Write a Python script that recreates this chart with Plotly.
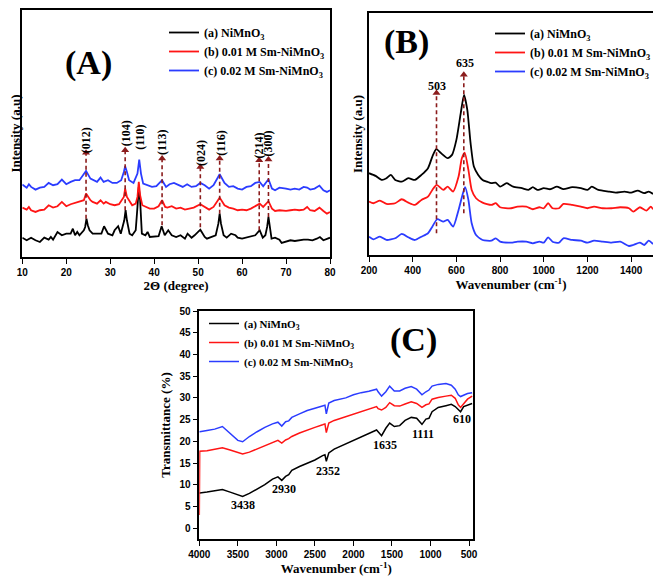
import plotly.graph_objects as go

SERIF = "Liberation Serif"
SANS = "Liberation Sans"
BLACK = "#000000"
RED = "#ff1414"
BLUE = "#2b3cff"
DARKRED = "#8b1c1c"

NAMES = ["(a) NiMnO<sub>3</sub>", "(b) 0.01 M Sm-NiMnO<sub>3</sub>", "(c) 0.02 M Sm-NiMnO<sub>3</sub>"]

# ---------------- Panel A: XRD ----------------
xrd_black_x = [10, 11, 12, 13, 14, 15, 16, 16.5, 17, 18, 19, 20, 21, 21.5, 22, 22.5, 23, 24, 24.3, 24.6, 24.9, 25.3, 26, 27, 28,
               28.6, 29.5, 30.5, 31, 31.8, 32.4, 33.2, 33.5, 33.8, 34.4, 35, 35.8, 36.2, 36.5, 36.8, 37.2, 38, 38.5, 39, 40,
               41, 41.7, 42.4, 43.2, 44, 45, 46, 47, 47.6, 48.5, 49.2, 50.5, 51.5, 52, 53, 54, 54.6, 54.9, 55.2, 55.8, 56.5,
               57.5, 58.5, 59, 60, 61, 62, 63, 64, 64.7, 65.3, 65.7, 66, 66.3, 66.7, 67.5, 68.5, 69, 70, 71, 72, 73, 74, 75,
               76, 77, 77.7, 78.5, 79.5, 80]
xrd_black_y = [19.3, 16.7, 19.3, 16.7, 15.0, 19.3, 17.3, 20.0, 17.3, 25.0, 21.7, 23.3, 23.3, 28.3, 21.7, 25.0, 21.7, 26.7, 30.0,
               38.3, 31.7, 26.7, 23.3, 23.3, 23.3, 30.7, 23.3, 21.7, 26.7, 30.7, 23.3, 36.7, 46.7, 36.7, 23.3, 21.7, 26.7, 50.0,
               70.0, 56.7, 23.3, 21.7, 25.0, 20.0, 20.0, 20.7, 30.7, 21.7, 26.7, 21.7, 20.0, 21.7, 18.3, 23.3, 19.3, 21.7, 27.3,
               20.0, 18.3, 20.0, 21.7, 33.3, 43.3, 33.3, 21.7, 19.3, 23.3, 21.7, 19.3, 18.3, 19.3, 20.0, 21.7, 26.7, 19.3, 21.7,
               30.0, 40.0, 30.0, 18.3, 19.3, 17.3, 14.0, 15.0, 16.7, 16.0, 16.7, 17.3, 17.3, 16.7, 18.3, 20.0, 16.7, 18.3, 19.3]

xrd_red_x = [10, 11, 11.5, 12, 13, 14, 15, 16, 17, 18, 19, 20, 21, 22, 23, 24, 24.5, 25.5, 26, 27, 27.8, 28.5, 29, 30, 31, 32,
             33.1, 33.4, 33.8, 34.2, 35, 35.8, 36.2, 36.5, 36.8, 37.3, 38, 39, 40, 41, 41.8, 42.5, 43, 44, 45, 46, 47, 48, 49,
             50.5, 51.5, 52.5, 53.5, 54.9, 56, 57, 58, 59, 60, 61, 62, 63, 64, 64.8, 66, 66.8, 67.5, 68.5, 70, 71, 72, 73, 74,
             74.8, 75.5, 76.5, 77.6, 78.5, 79.3, 80]
xrd_red_y = [49.3, 47.3, 50.0, 46.7, 45.0, 46.7, 47.3, 51.7, 49.3, 50.7, 55.0, 50.7, 52.7, 54.0, 55.0, 56.7, 63.3, 56.7, 55.0,
             53.3, 56.7, 53.3, 55.0, 52.7, 51.7, 52.7, 60.0, 68.3, 60.0, 56.7, 51.7, 53.3, 60.0, 75.0, 61.7, 51.7, 50.0, 48.3,
             48.3, 50.7, 56.7, 50.0, 49.3, 50.7, 48.3, 49.3, 47.3, 48.3, 49.3, 52.7, 50.0, 47.3, 50.0, 59.3, 51.7, 49.3, 48.3,
             46.7, 47.3, 46.7, 48.3, 50.7, 53.3, 50.0, 55.7, 48.3, 46.0, 46.7, 46.0, 46.7, 47.3, 46.7, 47.3, 50.0, 46.7, 46.0,
             49.3, 46.0, 43.3, 45.0]

xrd_blue_x = [10, 11, 11.5, 12, 13, 14, 15, 16, 17, 18, 19, 20, 21, 22, 23, 24.5, 25.5, 26, 27, 27.8, 28.5, 29.5, 30.5, 31.5,
              32.5, 33.1, 33.4, 33.8, 34.3, 35.3, 36.2, 36.6, 37.0, 37.5, 38.5, 39.5, 40.5, 41.8, 42.7, 43.5, 44.5, 45.5, 46.5,
              47.5, 48.5, 49.5, 50.5, 51.5, 52.5, 53.5, 54.9, 56, 57, 58, 59, 60, 61, 62, 63, 64, 64.8, 66, 66.8, 67.5, 68.5,
              70, 71, 72, 73, 74, 74.8, 75.5, 76.5, 77.6, 78.5, 79.3, 80]
xrd_blue_y = [72.3, 69.3, 72.7, 70.0, 67.3, 69.3, 70.0, 74.0, 71.7, 72.7, 77.3, 72.7, 75.0, 76.7, 76.7, 86.0, 78.3, 77.3, 75.0,
              79.3, 75.0, 76.7, 74.0, 74.0, 76.7, 85.0, 90.7, 85.0, 76.7, 74.0, 83.3, 97.3, 83.3, 73.3, 71.7, 70.0, 70.7, 76.7,
              70.0, 72.7, 74.0, 71.7, 70.0, 72.7, 70.0, 70.7, 74.0, 71.7, 68.3, 71.7, 82.7, 74.0, 70.0, 70.7, 68.3, 67.3, 70.0,
              70.7, 74.0, 75.0, 70.7, 77.7, 68.3, 66.7, 69.3, 68.3, 67.3, 68.3, 67.3, 70.0, 69.3, 67.3, 68.3, 71.3, 66.7, 65.0,
              66.7]

xrd_peak_pos = [24.5, 33.4, 41.8, 50.5, 54.9, 63.9, 66.0]
xrd_peak_base = [38.3, 46.7, 31.7, 29.7, 43.3, 26.7, 40.0]
xrd_peak_tip = [104.0, 106.7, 98.3, 90.0, 98.3, 96.7, 97.3]
xrd_labels = ["(012)", "(104)", "(110)", "(113)", "(024)", "(116)", "(214)", "(300)"]
xrd_label_x = [24.5, 33.5, 36.6, 41.8, 50.5, 55.0, 63.9, 65.9]
xrd_label_y = [116.7, 123.3, 119.3, 114.0, 104.3, 113.3, 111.7, 113.3]

# ---------------- Panel B: Raman ----------------
ram_black_x = [200, 230, 260, 280, 300, 320, 350, 380, 410, 440, 470, 490, 508, 530, 560, 580, 600, 620, 635, 650, 665, 680,
               700, 720, 740, 760, 780, 800, 830, 860, 900, 930, 950, 970, 1000, 1030, 1060, 1090, 1130, 1170, 1200, 1220,
               1250, 1300, 1330, 1370, 1400, 1430, 1460, 1480, 1500]
ram_black_y = [81.7, 79.0, 75.0, 76.7, 80.0, 75.0, 73.3, 76.7, 75.0, 80.0, 86.7, 98.3, 105.7, 101.7, 96.7, 100.0, 115.0, 141.7,
               160.0, 145.0, 111.7, 88.3, 80.0, 75.0, 73.3, 71.7, 72.3, 68.3, 71.7, 68.3, 66.7, 65.0, 67.7, 65.0, 66.7, 65.7,
               68.3, 65.7, 67.7, 66.7, 65.0, 68.3, 65.0, 63.3, 62.3, 63.3, 62.3, 64.3, 61.7, 63.3, 61.0]

ram_red_x = [200, 220, 250, 280, 320, 350, 380, 410, 440, 470, 490, 510, 540, 560, 585, 610, 625, 638, 655, 670, 690, 720,
             760, 780, 800, 850, 880, 920, 950, 980, 1000, 1020, 1040, 1070, 1090, 1130, 1170, 1200, 1230, 1270, 1310, 1350,
             1390, 1410, 1440, 1470, 1490, 1500]
ram_red_y = [53.3, 51.7, 54.3, 51.0, 51.7, 55.7, 52.3, 50.0, 55.0, 58.3, 65.0, 70.0, 65.0, 68.3, 63.3, 78.3, 96.7, 102.3,
             85.0, 65.0, 56.7, 52.3, 50.0, 51.7, 47.7, 46.7, 48.3, 48.3, 45.7, 47.7, 46.7, 51.7, 46.7, 46.7, 51.0, 50.0, 48.3,
             46.7, 48.3, 46.7, 46.7, 47.7, 46.7, 43.3, 47.7, 44.3, 48.3, 45.7]

ram_blue_x = [200, 220, 250, 280, 320, 350, 380, 410, 440, 470, 490, 512, 540, 560, 585, 610, 630, 640, 655, 670, 690, 720,
              760, 780, 800, 850, 880, 920, 950, 980, 1000, 1020, 1040, 1070, 1090, 1130, 1170, 1200, 1230, 1270, 1310, 1350,
              1390, 1410, 1440, 1460, 1480, 1500]
ram_blue_y = [18.3, 15.7, 18.3, 15.0, 16.7, 21.0, 17.7, 15.0, 18.3, 21.7, 28.3, 35.7, 33.3, 35.0, 28.3, 45.0, 61.7, 67.7,
              55.0, 31.7, 20.0, 15.0, 14.3, 16.7, 13.3, 12.3, 13.3, 13.3, 11.7, 13.3, 12.3, 17.7, 13.3, 12.3, 16.7, 15.0, 14.3,
              12.3, 14.3, 13.3, 12.3, 13.3, 9.0, 10.0, 12.3, 10.0, 14.3, 11.0]

ram_peak_pos = [509, 634]
ram_peak_base = [21.7, 41.7]
ram_peak_tip = [161.7, 180.0]
ram_labels = ["503", "635"]
ram_label_x = [509, 639]
ram_label_y = [169.0, 191.7]

# ---------------- Panel C: FTIR ----------------
ir_x = [4000, 3995, 3900, 3800, 3700, 3600, 3500, 3438, 3350, 3250, 3150, 3050, 2980, 2930, 2880, 2840, 2800, 2700, 2600,
        2500, 2400, 2370, 2352, 2320, 2250, 2100, 2000, 1900, 1800, 1700, 1680, 1635, 1580, 1530, 1470, 1400, 1330, 1250,
        1180, 1111, 1060, 1020, 980, 900, 800, 730, 680, 640, 610, 570, 520, 460]
ir_black = [8.1, 8.1, 8.3, 8.6, 8.9, 8.3, 7.6, 7.3, 8.0, 9.0, 10.0, 11.3, 11.8, 11.0, 11.9, 12.3, 13.3, 14.2, 15.0, 15.7, 16.7,
            16.9, 15.4, 17.3, 18.2, 19.4, 20.3, 21.1, 21.9, 22.6, 22.2, 21.3, 23.0, 24.2, 23.4, 23.6, 24.8, 25.5, 25.3, 23.9,
            25.1, 25.3, 26.8, 27.8, 28.2, 28.5, 28.0, 27.2, 26.8, 28.0, 28.4, 28.7]
ir_red = [3.0, 17.7, 17.8, 18.2, 18.5, 18.0, 17.4, 17.1, 17.5, 18.2, 19.0, 19.7, 20.2, 19.6, 20.3, 20.6, 21.1, 21.9, 22.6,
          23.2, 23.8, 24.0, 22.0, 24.2, 24.8, 25.7, 26.3, 26.8, 27.4, 28.0, 27.5, 27.2, 27.8, 28.9, 28.2, 28.1, 28.6, 29.1,
          28.7, 27.8, 28.4, 28.6, 29.7, 30.1, 30.4, 30.6, 29.9, 28.4, 27.8, 28.7, 29.7, 30.4]
ir_blue = [22.2, 22.2, 22.5, 22.8, 23.4, 21.9, 20.2, 19.9, 21.1, 22.2, 23.2, 24.0, 24.4, 23.5, 24.5, 24.7, 25.5, 26.3, 27.1,
           27.6, 28.1, 28.3, 26.3, 28.8, 29.4, 30.0, 30.7, 31.2, 31.5, 32.0, 31.4, 30.4, 31.4, 32.7, 31.6, 31.6, 32.2, 32.6,
           32.0, 30.7, 31.4, 31.8, 32.7, 33.1, 33.3, 32.9, 32.0, 30.7, 30.3, 30.7, 31.0, 31.2]
ir_labels = ["3438", "2930", "2352", "1635", "1111", "610"]
ir_label_x = [3430, 2897, 2326, 1591, 1094, 596]
ir_label_y = [5.4, 8.9, 13.2, 19.2, 21.6, 25.1]

fig = go.Figure()

series_a = [(xrd_black_x, xrd_black_y, BLACK), (xrd_red_x, xrd_red_y, RED), (xrd_blue_x, xrd_blue_y, BLUE)]
for (xs, ys, c), nm in zip(series_a, NAMES):
    fig.add_trace(go.Scatter(x=xs, y=ys, mode="lines", name=nm, line=dict(color=c, width=1.8),
                             xaxis="x", yaxis="y", legend="legend"))

series_b = [(ram_black_x, ram_black_y, BLACK), (ram_red_x, ram_red_y, RED), (ram_blue_x, ram_blue_y, BLUE)]
for (xs, ys, c), nm in zip(series_b, NAMES):
    fig.add_trace(go.Scatter(x=xs, y=ys, mode="lines", name=nm, line=dict(color=c, width=1.8, shape="spline", smoothing=0.6),
                             xaxis="x2", yaxis="y2", legend="legend2"))

for ys, c, nm in zip([ir_black, ir_red, ir_blue], [BLACK, RED, BLUE], NAMES):
    fig.add_trace(go.Scatter(x=ir_x, y=ys, mode="lines", name=nm, line=dict(color=c, width=1.5),
                             xaxis="x3", yaxis="y3", legend="legend3"))


def add_arrows(pos, base, tip, xa, ya):
    lx, ly = [], []
    for p, b, t in zip(pos, base, tip):
        lx += [p, p, None]
        ly += [b, t, None]
    fig.add_trace(go.Scatter(x=lx, y=ly, mode="lines", showlegend=False, hoverinfo="skip",
                             line=dict(color=DARKRED, width=1.6, dash="4px,3px"), xaxis=xa, yaxis=ya))
    fig.add_trace(go.Scatter(x=pos, y=tip, mode="markers", showlegend=False, hoverinfo="skip",
                             marker=dict(symbol="triangle-up", size=7, color=DARKRED), xaxis=xa, yaxis=ya))


add_arrows(xrd_peak_pos, xrd_peak_base, xrd_peak_tip, "x", "y")
add_arrows(ram_peak_pos, ram_peak_base, ram_peak_tip, "x2", "y2")

annotations = []
for t, x, y in zip(xrd_labels, xrd_label_x, xrd_label_y):
    annotations.append(dict(text=t, x=x, y=y, xref="x", yref="y", showarrow=False, textangle=-90,
                            font=dict(family=SERIF, size=12, color="black", weight="bold")))
for t, x, y in zip(ram_labels, ram_label_x, ram_label_y):
    annotations.append(dict(text=t, x=x, y=y, xref="x2", yref="y2", showarrow=False,
                            font=dict(family=SERIF, size=12, color="black", weight="bold")))
for t, x, y in zip(ir_labels, ir_label_x, ir_label_y):
    annotations.append(dict(text=t, x=x, y=y, xref="x3", yref="y3", showarrow=False,
                            font=dict(family=SERIF, size=12, color="black", weight="bold")))

# the page body has an 8px margin: the figure is offset by OX, OY inside the 661x576 window
OX, OY = 8, 8
W, H = 661 - OX, 576 - OY


def px_x(p):
    return (p - OX) / W


def px_y(p):
    return 1 - (p - OY) / H


for t, px, py in [("(A)", 88, 63), ("(B)", 406, 42), ("(C)", 413, 340)]:
    annotations.append(dict(text=t, x=px_x(px), y=px_y(py), xref="paper", yref="paper", showarrow=False,
                            xanchor="center", yanchor="middle",
                            font=dict(family=SERIF, size=34, color="black", weight="bold")))

tickfont = dict(family=SANS, size=10, color="black", weight="bold")
titlefont = dict(family=SERIF, size=13, color="black", weight="bold")
ax_common = dict(showline=True, linecolor="black", linewidth=1.5, mirror=True, showgrid=False, zeroline=False,
                 tickfont=tickfont, ticks="outside", ticklen=5, tickwidth=1.2, tickcolor="black", automargin=False)
yplain = dict(showline=True, linecolor="black", linewidth=1.5, mirror=True, showgrid=False, zeroline=False,
              showticklabels=False, ticks="", automargin=False)

leg_common = dict(bgcolor="rgba(0,0,0,0)", xanchor="left", yanchor="top", itemwidth=30, tracegroupgap=0)
leg_font_ab = dict(family=SERIF, size=12, color="black", weight="bold")
leg_font_c = dict(family=SERIF, size=11, color="black", weight="bold")

fig.update_layout(
    width=W, height=H, margin=dict(l=0, r=0, t=0, b=0, autoexpand=False), paper_bgcolor="white", plot_bgcolor="white",
    xaxis=dict(domain=[px_x(22.3), px_x(330)], anchor="y", range=[10, 80], dtick=10,
               title=dict(text="2Θ (degree)", font=titlefont, standoff=4), **ax_common),
    yaxis=dict(domain=[px_y(257), px_y(10)], anchor="x", range=[0, 246.7],
               title=dict(text="Intensity (a.u)", font=titlefont, standoff=2), **yplain),
    xaxis2=dict(domain=[px_x(369), px_x(653)], anchor="y2", range=[200, 1500], dtick=200,
                title=dict(text="Wavenumber (cm<sup>-1</sup>)", font=titlefont, standoff=4), **ax_common),
    yaxis2=dict(domain=[px_y(255), px_y(13)], anchor="x2", range=[0, 241.7],
                title=dict(text="Intensity (a.u)", font=titlefont, standoff=2), **yplain),
    xaxis3=dict(domain=[px_x(199.3), px_x(473.3)], anchor="y3", range=[4000, 445], dtick=500, tick0=500,
                title=dict(text="Wavenumber (cm<sup>-1</sup>)", font=titlefont, standoff=4), **ax_common),
    yaxis3=dict(domain=[px_y(539), px_y(311)], anchor="x3", range=[-2.5, 50], dtick=5, tick0=0,
                title=dict(text="Transmittance (%)", font=titlefont, standoff=6), **ax_common),
    legend=dict(x=px_x(164), y=px_y(18), font=leg_font_ab, **leg_common),
    legend2=dict(x=px_x(490), y=px_y(19), font=leg_font_ab, **leg_common),
    legend3=dict(x=px_x(204), y=px_y(309), font=leg_font_c, **leg_common),
    annotations=annotations,
)

fig.write_html("out.html")
